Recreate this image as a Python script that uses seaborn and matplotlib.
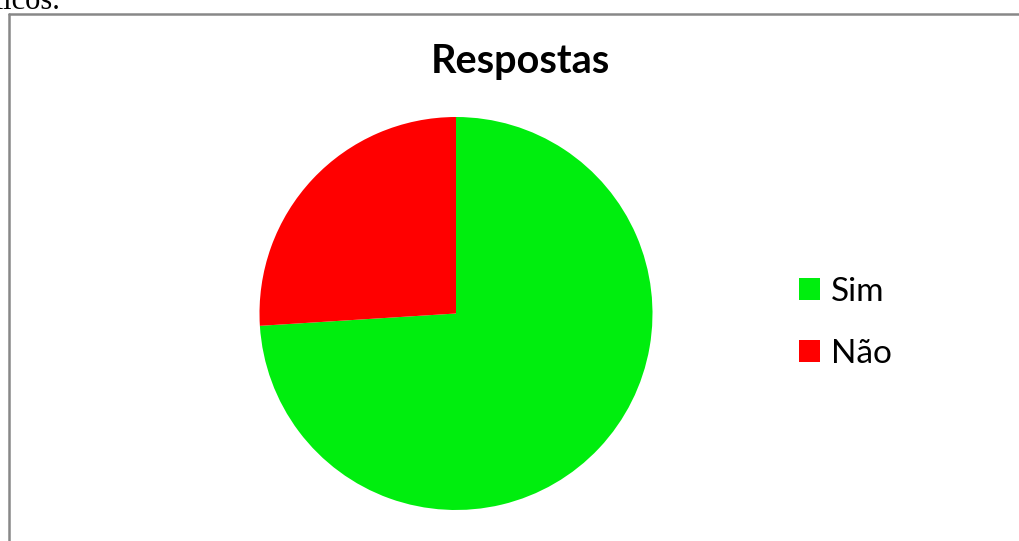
import matplotlib
matplotlib.use("Agg")
import matplotlib.pyplot as plt
import seaborn as sns
from matplotlib.patches import Patch
from matplotlib.lines import Line2D

# Survey answers
labels = ["Sim", "Não"]
values = [74, 26]
colors = ["#00EE0E", "#FF0000"]
title = "Respostas"

sns.set_style("white")
plt.rcParams["font.family"] = ["Lato", "DejaVu Sans"]
plt.rcParams["text.color"] = "black"

W, H = 1019, 541
fig = plt.figure(figsize=(W / 100, H / 100), dpi=100)

# preceding document text, clipped at top edge
fig.text(60 / W, 1 - 9 / H, "ficos.", ha="right", va="baseline",
         fontsize=22, family=["Liberation Serif"], color="black")

# chart frame (left and top edges)
fig.add_artist(Line2D([8.7 / W, 8.7 / W], [0, 1 - 13.5 / H], color="#888888", lw=1.8))
fig.add_artist(Line2D([8.7 / W, 1.0], [1 - 13.5 / H, 1 - 13.5 / H], color="#888888", lw=1.8))

cx, cy, r = 456, 313.5, 196.5
ax = fig.add_axes([(cx - r) / W, (H - cy - r) / H, 2 * r / W, 2 * r / H])
ax.pie(values, colors=colors, startangle=90, counterclock=False,
       wedgeprops=dict(linewidth=0))
ax.set_xlim(-1, 1)
ax.set_ylim(-1, 1)
ax.axis("off")

fig.text(520 / W, 1 - 73 / H, title, ha="center", va="baseline",
         fontsize=28.5, fontweight="bold", color="black")

handles = [Patch(facecolor=c, edgecolor="none", label=l) for c, l in zip(colors, labels)]
leg = fig.legend(handles=handles, loc="upper left", bbox_to_anchor=(799 / W, 1 - 277 / H),
                 frameon=False, fontsize=24, handlelength=0.63, handleheight=0.63,
                 handletextpad=0.33, labelspacing=0.95, borderpad=0, borderaxespad=0)
for t in leg.get_texts():
    t.set_color("black")

fig.savefig("out.png", dpi=100, facecolor="white")
